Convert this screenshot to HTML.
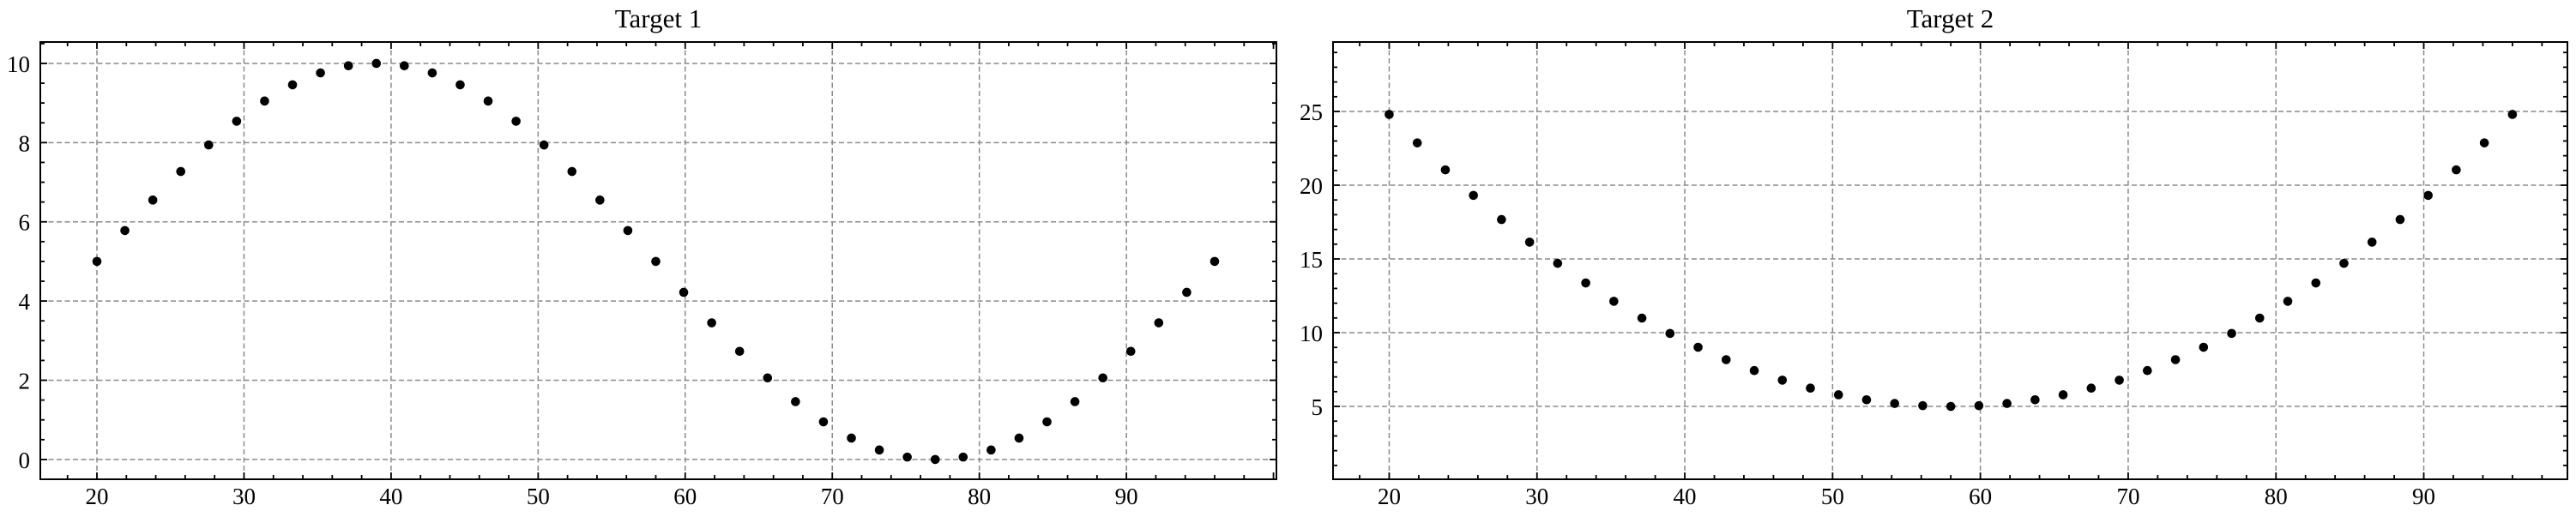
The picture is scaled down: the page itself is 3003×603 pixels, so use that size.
<!DOCTYPE html>
<html><head><meta charset="utf-8"><style>
html,body{margin:0;padding:0;background:#fff}
svg{display:block}
text{font-family:"Liberation Serif",serif;fill:#000}
</style></head><body>
<svg id="chart" width="3003" height="603" viewBox="0 0 3003 603" xmlns="http://www.w3.org/2000/svg"></svg>
<script>
const categoriesX = [20.0,21.9,23.8,25.7,27.6,29.5,31.4,33.3,35.2,37.1,39.0,40.9,42.8,44.7,46.6,48.5,50.4,52.3,54.2,56.1,58.0,59.9,61.8,63.7,65.6,67.5,69.4,71.3,73.2,75.1,77.0,78.9,80.8,82.7,84.6,86.5,88.4,90.3,92.2,94.1,96.0];
const target1Values = [5.00,5.78,6.55,7.27,7.94,8.54,9.05,9.46,9.76,9.94,10.00,9.94,9.76,9.46,9.05,8.54,7.94,7.27,6.55,5.78,5.00,4.22,3.45,2.73,2.06,1.46,0.95,0.54,0.24,0.06,0.00,0.06,0.24,0.54,0.95,1.46,2.06,2.73,3.45,4.22,5.00];
const target2Values = [24.80,22.87,21.04,19.31,17.67,16.14,14.70,13.37,12.13,10.99,9.95,9.01,8.17,7.43,6.78,6.24,5.79,5.45,5.20,5.05,5.00,5.05,5.20,5.45,5.79,6.24,6.78,7.43,8.17,9.01,9.95,10.99,12.13,13.37,14.70,16.14,17.67,19.31,21.04,22.87,24.80];
const xTicks = [20,30,40,50,60,70,80,90];
const yTicks1 = [0,2,4,6,8,10];
const yTicks2 = [5,10,15,20,25];

const NS="http://www.w3.org/2000/svg";
const svg=document.getElementById('chart');
function mk(tag,attrs,parent){const e=document.createElementNS(NS,tag);for(const k in attrs)e.setAttribute(k,attrs[k]);(parent||svg).appendChild(e);return e;}

function panel(cfg){
  const g=mk('g',{});
  
  
  const L=cfg.left,R=cfg.right,T=49,B=559;
  const sx=v=>L+(v-cfg.xmin)/(cfg.xmax-cfg.xmin)*(R-L);
  const sy=v=>B-(v-cfg.ymin)/(cfg.ymax-cfg.ymin)*(B-T);
  const grid=mk('g',{stroke:'#8a8a8a','stroke-width':1.5,'stroke-dasharray':'6,3.5'},g);
  
  
  xTicks.forEach(t=>{const x=sx(t);mk('line',{x1:x,x2:x,y1:T,y2:B},grid);});
  cfg.yTicks.forEach(t=>{const y=sy(t);mk('line',{x1:L,x2:R,y1:y,y2:y},grid);});
  const tk=mk('g',{stroke:'#000','stroke-width':1.8},g);
  
  
  for(let v=Math.ceil(cfg.xmin/2)*2;v<=cfg.xmax;v+=2){
    const x=sx(v);const major=(v%10===0);const len=major?8:5;
    mk('line',{x1:x,x2:x,y1:B,y2:B-len},tk);mk('line',{x1:x,x2:x,y1:T,y2:T+len},tk);
  }
  for(let v=Math.ceil(cfg.ymin/cfg.yminor)*cfg.yminor;v<=cfg.ymax+1e-9;v+=cfg.yminor){
    const y=sy(v);const r=Math.abs(v/cfg.ymajor-Math.round(v/cfg.ymajor))<1e-6;const len=r?8:5;
    mk('line',{x1:L,x2:L+len,y1:y,y2:y},tk);mk('line',{x1:R,x2:R-len,y1:y,y2:y},tk);
  }
  const fr=mk('rect',{x:L,y:T,width:R-L,height:B-T,fill:'none',stroke:'#000','stroke-width':2},g);
  
  
  xTicks.forEach(t=>{const tx=mk('text',{x:sx(t),y:588,'font-size':27,'text-anchor':'middle'},g);tx.textContent=t;
    
    });
  cfg.yTicks.forEach(t=>{const tx=mk('text',{x:L-12,y:sy(t)+10,'font-size':27,'text-anchor':'end'},g);tx.textContent=t;
    
    });
  const ti=mk('text',{x:(L+R)/2,y:32,'font-size':31,'text-anchor':'middle'},g);ti.textContent=cfg.title;
  
  
  const pts=mk('g',{fill:'#000'},g);
  
  
  categoriesX.forEach((x,i)=>{const c=mk('circle',{cx:sx(x),cy:sy(cfg.values[i]),r:5.3},pts);
    
    });
}
panel({name:'target-1-panel',title:'Target 1',left:47,right:1488,xmin:16.15,xmax:100.2,ymin:-0.5,ymax:10.54,yTicks:yTicks1,ymajor:2,yminor:0.5,values:target1Values});
panel({name:'target-2-panel',title:'Target 2',left:1554,right:2993,xmin:16.2,xmax:99.72,ymin:0.06,ymax:29.71,yTicks:yTicks2,ymajor:5,yminor:1,values:target2Values});
</script>
</body></html>
